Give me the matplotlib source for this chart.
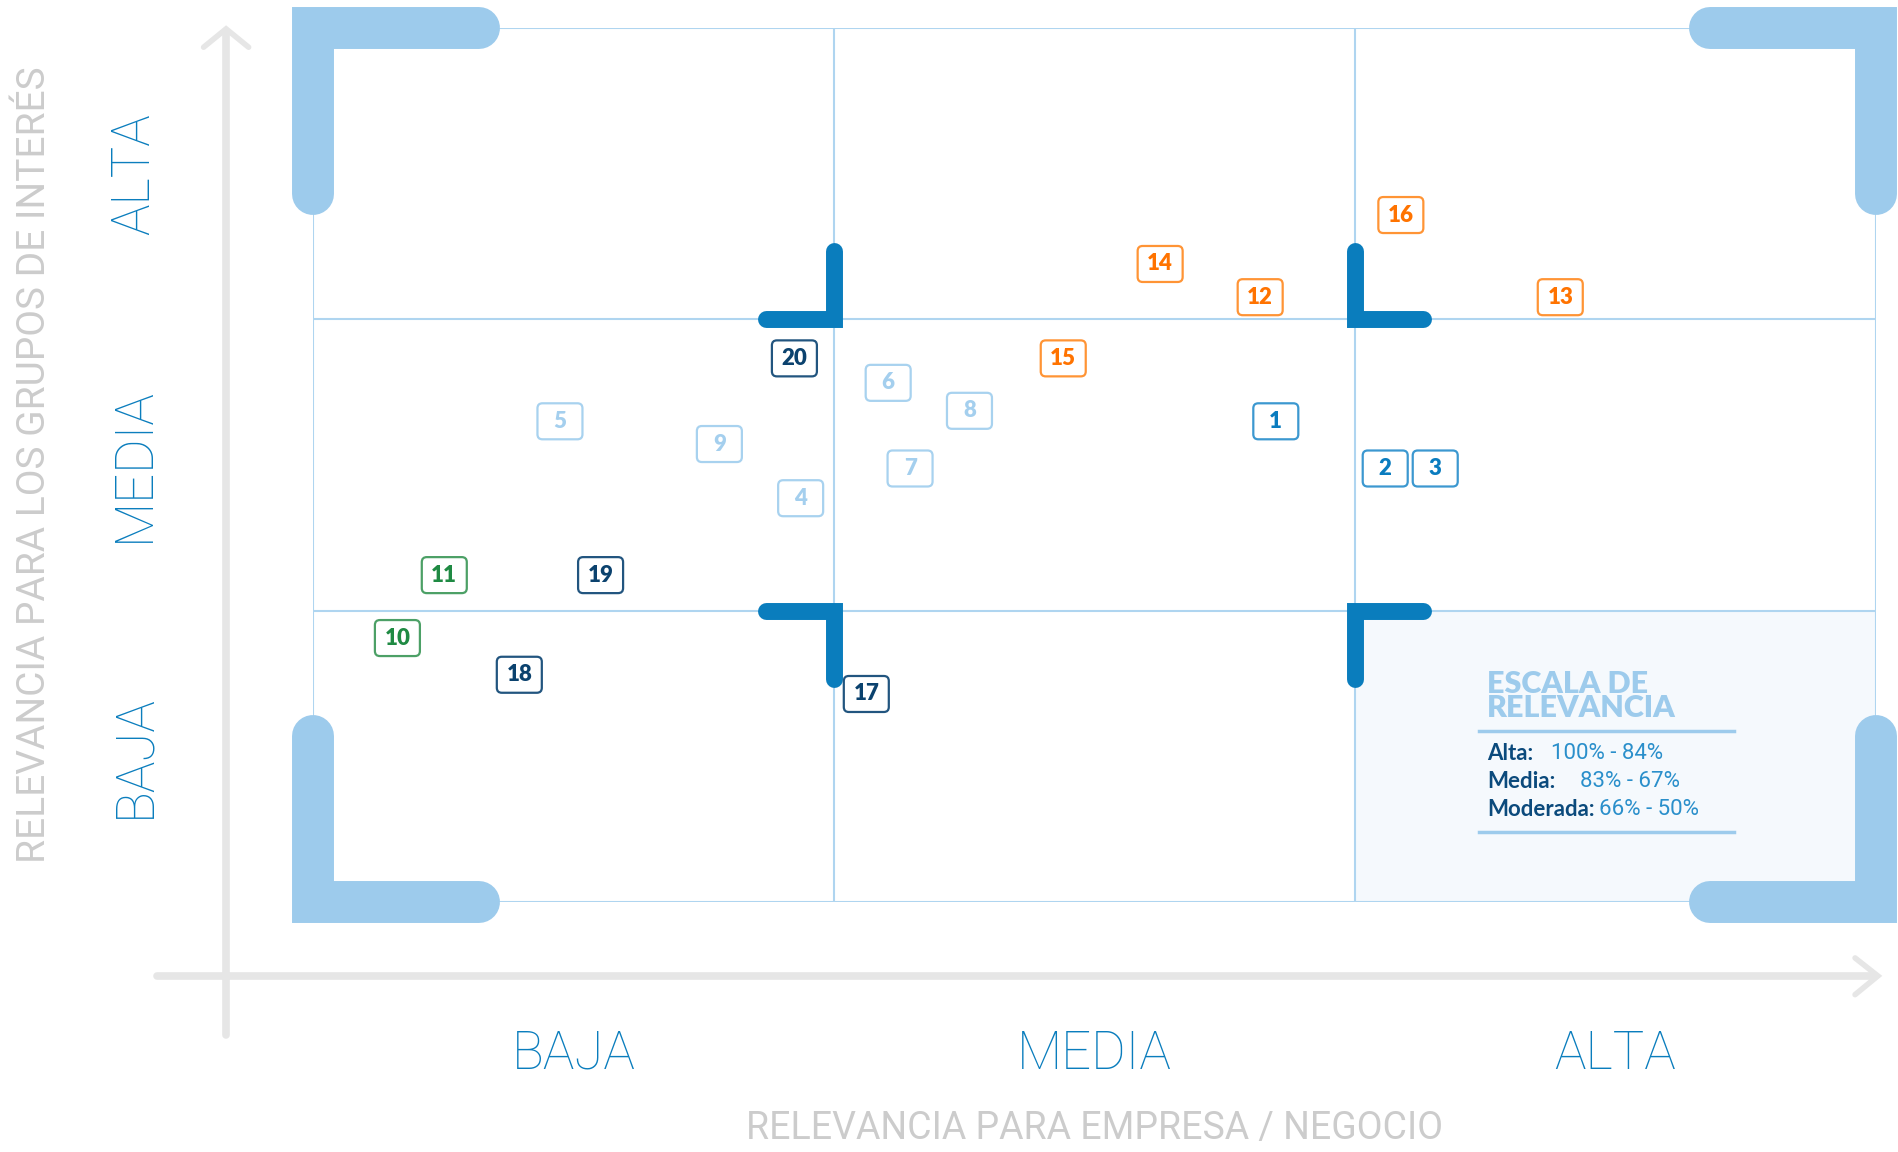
import matplotlib
matplotlib.use('Agg')
import matplotlib.pyplot as plt
from matplotlib.patches import FancyBboxPatch, Rectangle
from matplotlib.transforms import ScaledTranslation

# temas materiales: numero, relevancia empresa (x, %), relevancia grupos de interes (y, %)
temas = [1, 2, 3, 4, 5, 6, 7, 8, 9, 10, 11, 12, 13, 14, 15, 16, 17, 18, 19, 20]
empresa = [80.8, 84.3, 85.9, 65.6, 57.9, 68.4, 69.1, 71.0, 63.0, 52.7,
           54.2, 80.3, 89.9, 77.1, 74.0, 84.8, 67.7, 56.6, 59.2, 65.4]
grupos = [77.5, 74.8, 74.8, 73.1, 77.5, 79.7, 74.8, 78.1, 76.2, 65.1,
          68.7, 84.6, 84.6, 86.5, 81.1, 89.3, 61.9, 63.0, 68.7, 81.1]
familia = ['azul', 'azul', 'azul', 'claro', 'claro', 'claro', 'claro', 'claro', 'claro', 'verde',
           'verde', 'naranja', 'naranja', 'naranja', 'naranja', 'naranja', 'marino', 'marino', 'marino', 'marino']

niveles = ['BAJA', 'MEDIA', 'ALTA']
cortes = [50, 50 + 50 / 3, 50 + 100 / 3, 100]

escala_nombres = ['Alta:', 'Media:', 'Moderada:']
escala_rangos = ['100% - 84%', '83% - 67%', '66% - 50%']

# text colour, edge colour
colores = {
    'azul': ('#0A7CBF', '#3C98D0'),
    'claro': ('#A4CFEE', '#A8D2EF'),
    'verde': ('#1F8A43', '#4CA066'),
    'naranja': ('#FF7300', '#FF9435'),
    'marino': ('#0B426E', '#22557F'),
}

celeste = '#9DCBEC'
azul_fuerte = '#0A7DBD'
linea = '#AFD5F0'
gris = '#E6E6E6'

fig = plt.figure(figsize=(18.99, 11.52), dpi=100)
ax = fig.add_axes([313 / 1899, 250 / 1152, 1563 / 1899, 874 / 1152])
ax.set_xlim(50, 100)
ax.set_ylim(50, 100)
for s in ax.spines.values():
    s.set_visible(False)

# shaded cell (alta empresa / baja grupos)
ax.add_patch(Rectangle((cortes[2], cortes[0]), cortes[3] - cortes[2], cortes[1] - cortes[0],
                       facecolor='#F5F9FD', edgecolor='none', zorder=0))

# grid
for c in cortes:
    ax.axvline(c, color=linea, lw=1.5, zorder=1)
    ax.axhline(c, color=linea, lw=1.5, zorder=1)

# outer brackets
ax_len = 5.3
ay_len = 9.5
for cx, cy, dx, dy in [(50, 100, 1, -1), (100, 100, -1, -1), (50, 50, 1, 1), (100, 50, -1, 1)]:
    ax.plot([cx + dx * ax_len, cx, cx], [cy, cy, cy + dy * ay_len], color=celeste, lw=30.2,
            solid_capstyle='round', solid_joinstyle='miter', zorder=3, clip_on=False)

# inner brackets
bx_len = 2.18
by_len = 3.9
for cx, cy, dx, dy in [(cortes[1], cortes[2], -1, 1), (cortes[2], cortes[2], 1, 1),
                       (cortes[1], cortes[1], -1, -1), (cortes[2], cortes[1], 1, -1)]:
    ax.plot([cx + dx * bx_len, cx, cx], [cy, cy, cy + dy * by_len], color=azul_fuerte, lw=12.2,
            solid_capstyle='round', solid_joinstyle='miter', zorder=3)

# topic boxes
bw, bh = 0.45, 0.36
for n, x, y, f in zip(temas, empresa, grupos, familia):
    tc, ec = colores[f]
    trans = fig.dpi_scale_trans + ScaledTranslation(x, y, ax.transData)
    ax.add_patch(FancyBboxPatch((-bw / 2, -bh / 2), bw, bh, boxstyle='round,pad=0,rounding_size=0.05',
                                transform=trans, facecolor='white', edgecolor=ec, lw=1.6, zorder=4))
    ax.text(x, y, str(n), ha='center', va='center', fontsize=16, fontweight='heavy',
            family='Lato', color=tc, zorder=5)

# axis arrows
ax.plot([47.22, 47.22], [42.4, 99.8], color=gris, lw=5.5, solid_capstyle='round', clip_on=False, zorder=0)
ax.plot([46.5, 47.22, 47.94], [98.9, 99.95, 98.9], color=gris, lw=4, solid_capstyle='round',
        solid_joinstyle='miter', clip_on=False, zorder=0)
ax.plot([45.0, 99.9], [45.77, 45.77], color=gris, lw=5.5, solid_capstyle='round', clip_on=False, zorder=0)
ax.plot([99.33, 100.06, 99.33], [46.8, 45.77, 44.7], color=gris, lw=4, solid_capstyle='round',
        solid_joinstyle='miter', clip_on=False, zorder=0)

# ticks
centros = [(cortes[i] + cortes[i + 1]) / 2 for i in range(3)]
ax.set_xticks(centros)
ax.set_xticklabels(niveles, fontsize=38, family='Roboto', fontweight='light', color='#0A7DBD')
ax.set_yticks(centros)
ax.set_yticklabels(niveles, fontsize=38, family='Roboto', fontweight='light', color='#0A7DBD',
                   rotation=90, va='center')
ax.tick_params(axis='x', length=0, pad=91)
ax.tick_params(axis='y', length=0, pad=110)

ax.set_xlabel('RELEVANCIA PARA EMPRESA / NEGOCIO', fontsize=27, family='Roboto', color='#CCCCCC')
ax.xaxis.set_label_coords(0.5, -0.238)
ax.xaxis.label.set_va('top')
ax.set_ylabel('RELEVANCIA PARA LOS GRUPOS DE INTERÉS', fontsize=28, family='Roboto', color='#CCCCCC')
ax.yaxis.set_label_coords(-0.178, 0.5)
ax.yaxis.label.set_va('center')

# escala de relevancia
ax.text(87.56, 63.3, 'ESCALA DE\nRELEVANCIA', ha='left', va='top', fontsize=22, fontweight='heavy',
        family='Lato', color=celeste, linespacing=0.85, zorder=5)
ax.plot([87.3, 95.46], [59.78, 59.78], color=celeste, lw=2.5, zorder=5)
ax.plot([87.3, 95.46], [54.0, 54.0], color=celeste, lw=2.5, zorder=5)
filas_y = [58.52, 56.92, 55.32]
rango_x = [89.6, 90.53, 91.14]
for nombre, rango, fy, rx in zip(escala_nombres, escala_rangos, filas_y, rango_x):
    ax.text(87.56, fy, nombre, ha='left', va='center', fontsize=16, fontweight='bold',
            family='Lato', color='#0B4A7C', zorder=5)
    ax.text(rx, fy, rango, ha='left', va='center', fontsize=16, fontweight='normal',
            family='Roboto', color='#2A8FCB', zorder=5)

fig.savefig('out.png', dpi=100)
